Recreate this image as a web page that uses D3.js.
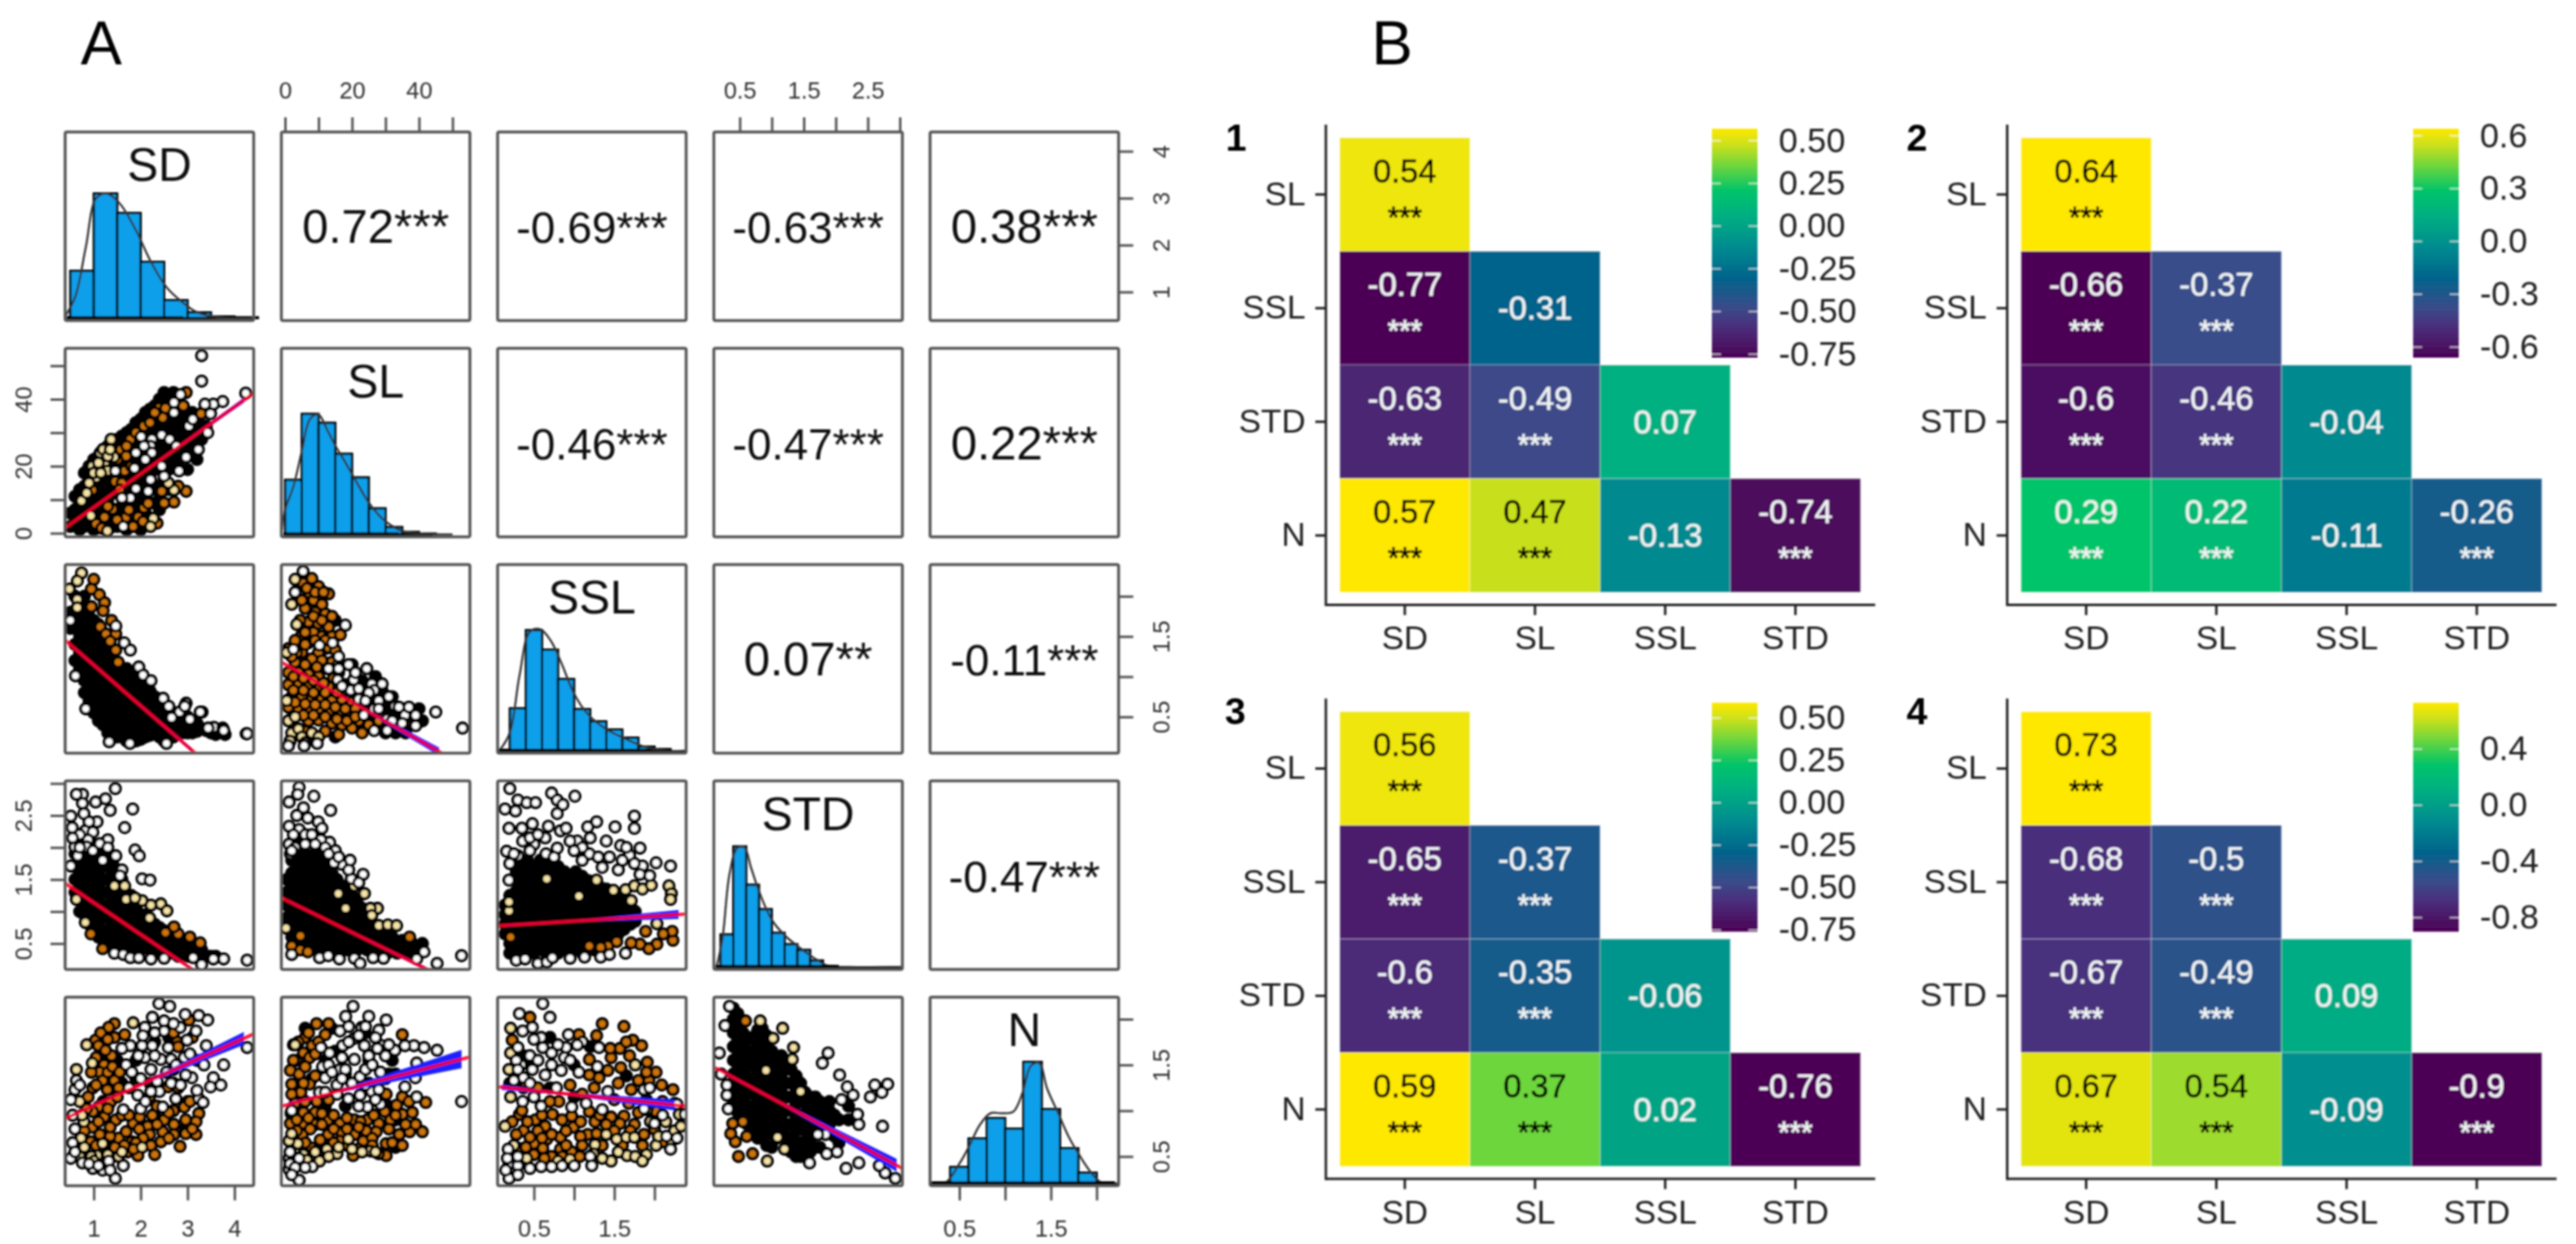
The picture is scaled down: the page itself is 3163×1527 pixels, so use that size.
<!DOCTYPE html>
<html>
<head>
<meta charset="utf-8">
<script src="https://cdn.jsdelivr.net/npm/d3@7"></script>
<style>
  body { margin: 0; background: #fff; }
  text { font-family: "Liberation Sans", Arial, sans-serif; }
</style>
</head>
<body>
<div id="chart"></div>
<script>
// ---- panel A: variables, axis ranges and ticks ----
var varNames = ["SD", "SL", "SSL", "STD", "N"];
var sdRange = [0.39, 4.41];
var slRange = [-1.1, 55.2];
var sslRange = [0.048, 2.394];
var stdRange = [0.095, 3.04];
var nRange = [0.18, 2.24];
var sdTicks = [1, 2, 3, 4];
var slTicks = [0, 10, 20, 30, 40, 50];
var slLabels = [0, 20, 40];
var sslTicks = [0.5, 1, 1.5, 2];
var stdTicks = [0.5, 1, 1.5, 2, 2.5, 3];
var nTicks = [0.5, 1, 1.5, 2];
var halfLabels = [0.5, 1.5, 2.5];

// upper triangle of the pairs plot
var corrA = [["0.72***", "-0.69***", "-0.63***", "0.38***"],
             ["-0.46***", "-0.47***", "0.22***"],
             ["0.07**", "-0.11***"],
             ["-0.47***"]];

// histograms: bin start, bin width, heights
var sdBins = [0.5, 0.5], sdHist = [58, 153, 129, 69, 22, 7, 2, 1];
var slBins = [0, 5], slHist = [67, 148, 137, 99, 70, 32, 9, 3, 1];
var sslBins = [0.2, 0.2], sslHist = [52, 148, 124, 88, 51, 36, 26, 16, 5, 2];
var stdBins = [0.2, 0.2], stdHist = [40, 148, 101, 71, 42, 28, 21, 8, 1];
var nBins = [0.4, 0.2], nHist = [20, 55, 80, 67, 149, 91, 43, 13];

// density curves: x, height
var sdDens = [0.39,2, 0.61,27, 0.83,87, 1.05,147, 1.27,153, 1.55,141, 1.88,110, 2.22,69, 2.55,38, 2.88,20, 3.21,7, 3.77,0, 4.41,0];
var slDens = [-1,5, 0,30, 2.5,59, 5,102, 7.5,142, 10,147, 12.5,129, 15,109, 17.5,92, 20,74, 22.5,56, 25,39, 27.5,26, 30,16, 35,4, 40,1, 50,0];
var sslDens = [0.07,0, 0.2,22, 0.32,92, 0.45,146, 0.58,149, 0.71,135, 0.84,108, 1,70, 1.16,46, 1.39,27, 1.61,16, 1.87,5, 2.13,0, 2.39,0];
var stdDens = [0.14,1, 0.23,35, 0.34,114, 0.46,146, 0.57,147, 0.68,121, 0.82,89, 1,58, 1.2,39, 1.43,24, 1.68,10, 1.9,1, 2.2,0, 3.03,0];
var nDens = [0.19,0, 0.35,1, 0.5,24, 0.61,46, 0.72,71, 0.84,86, 0.96,86, 1.09,88, 1.19,111, 1.28,144, 1.37,148, 1.46,116, 1.58,86, 1.7,56, 1.82,33, 1.94,13, 2.05,1, 2.23,0];

// rug under histograms: dense start, dense end, last value
var sdRug = [0.42, 2.9, 3.6], slRug = [-0.5, 34, 44], sslRug = [0.06, 1.95, 2.39], stdRug = [0.12, 2.05, 3.03], nRug = [0.19, 2.2, 2.24];

// scatter points. K arrays are columns [x, y, y, ...]; O, T and W are flat x,y lists
var slSdK = [[0.5,2,6],[0.7,1,5,9,13],[0.9,3,8,12,16,20],[1.1,2,6,11,15,19,23],[1.3,1,5,10,14,18,22,26],[1.5,2,7,12,16,20,24,28],[1.7,1,5,10,14,18,22,26,30],[1.9,3,8,13,17,21,25,29,33],[2.1,6,11,16,20,24,28,32,36],[2.3,9,14,19,23,27,31,35,38],[2.5,16,22,26,30,34,38,42],[2.7,22,26,30,34,38,42],[2.9,26,30,34],[3.1,24,28,32,36],[3.3,28,32],
  [0.6,3,7,11],[0.8,2,6,10,14,18],[1,1,5,9,14,18,22],[1.2,3,8,13,17,21,25],[1.4,2,7,12,16,20,24,27],[1.6,3,8,13,17,21,25,29],[1.8,2,7,12,16,20,24,28,31],[2,1,5,10,15,19,23,27,31,34],[2.2,4,9,14,18,22,26,30,34,37],[2.4,7,12,21,25,33,40],[2.6,13,19,24,28,32,36,41],[2.8,20,24,28,32,36,40],[3,19,23,27,31,36],[3.2,22,26,30,34],[3.4,32,36]];
var slSdO = [2.97,42, 2.39,37.3, 2.53,37.3, 2.47,34.5, 2.07,32, 1.78,28, 1.58,25, 1.69,23, 1.46,15.4, 0.97,12.9, 2.45,12.5, 2.97,12.5, 2.71,9.3, 2.91,38, 1.4,7.2, 1.69,4.8, 1.87,5.6, 2.07,7.6, 1.05,2.8, 1.84,2, 1.23,4.8, 1.95,4.8, 1.17,1.5, 3.29,35.7, 1.66,18.6, 2.16,8.9,
  1.5,22, 1.7,26, 1.9,30, 2.2,33, 2.3,36, 1.8,20, 1.6,15, 1.75,7, 2.05,3.5, 1.5,4, 1.3,8, 2.5,9, 2.8,14, 2.35,3, 1.55,13];
var slSdT = [1.37,28, 1.14,24, 1.43,22.7, 1.23,20.6, 0.97,20, 1.05,16.6, 0.74,9.7, 2.27,4.4, 2.21,2, 2.71,12.9, 2.59,15, 0.94,5.2, 1.29,0.7, 1.29,18.6, 1.2,25, 1.3,23, 1.1,21, 1,18, 0.9,15, 1.35,25, 1.15,18, 0.85,12];
var slSdW = [3.3,53, 3.3,45.4, 4.24,41.8, 3.75,39.3, 3.55,38.5, 3.37,38.5, 3.49,35.7, 2.85,41.4, 2.71,39, 2.71,36, 3.03,32, 2.45,29.3, 2.01,28.8, 2.24,28, 2.21,26, 2.07,26, 1.9,24, 2.24,24, 2.1,22, 2.97,22.7, 2.82,18.6, 1.87,19.4, 1.46,18.6, 2.5,17, 2.21,16, 1.9,13.3, 2.16,12.5, 1.78,10.5, 1.6,10.5, 1.63,2, 3.43,30, 3.23,25, 3.11,34, 2.62,28, 2.45,20, 2.76,26];

var sslSdK = [[0.5,1.6,1.8],[0.7,1.1,1.3,1.5,1.7,1.9],[0.9,0.7,0.85,1,1.15,1.3,1.45,1.6,1.75],[1.1,0.45,0.6,0.75,0.9,1.05,1.2,1.35,1.5,1.65],[1.3,0.3,0.45,0.6,0.75,0.9,1.05,1.2,1.35],[1.5,0.25,0.4,0.55,0.7,0.85,1,1.15],[1.7,0.2,0.35,0.5,0.65,0.8,0.95,1.1],[1.9,0.2,0.35,0.5,0.65,0.8,0.95],[2.1,0.25,0.4,0.55,0.7,0.85],[2.3,0.3,0.45,0.6,0.75],[2.5,0.2,0.35,0.5,0.65],[2.7,0.25,0.4,0.55],[2.9,0.3,0.45],[3.1,0.3,0.4],[3.3,0.35],[3.5,0.3],
  [0.6,1.2,1.4,1.6,1.8,2],[0.8,0.8,0.95,1.1,1.25,1.4,1.55,1.7,1.85,2],[1,0.55,0.7,0.85,1,1.15,1.3,1.45,1.6,1.7],[1.2,0.4,0.55,0.7,0.85,1,1.15,1.3,1.45],[1.4,0.3,0.45,0.6,0.75,0.9,1.05,1.2],[1.6,0.25,0.4,0.55,0.7,0.85,1,1.1],[1.8,0.25,0.4,0.55,0.7,0.85,1],[2,0.22,0.37,0.52,0.67,0.82,0.92],[2.2,0.27,0.42,0.57,0.72,0.82],[2.4,0.25,0.4,0.55,0.7],[2.6,0.25,0.38,0.5,0.6],[2.8,0.3,0.42,0.5],[3,0.3,0.4,0.5],[3.2,0.32,0.42],[3.4,0.33],[3.6,0.28],[3.8,0.28]];
var sslSdO = [1,2.21, 0.95,2.09, 1.12,2.02, 1.23,1.92, 0.95,1.87, 1.2,1.82, 1.38,1.7, 1.14,1.62, 1.26,1.53, 1.47,1.53, 1.35,1.44, 1.47,1.33, 1.52,1.18];
var sslSdT = [0.74,2.29, 0.65,2.19, 0.48,2.09, 0.65,1.96, 0.65,1.86];
var sslSdW = [1.47,1.63, 1.65,1.42, 1.78,1.33, 1.96,1.12, 2.05,1.02, 2.22,0.95, 2.48,0.73, 2.6,0.63, 2.97,0.67, 2.83,0.56, 3.31,0.56, 3.05,0.47, 3.56,0.37, 3.75,0.36, 4.25,0.29, 2.94,0.63, 3.27,0.56, 2.66,0.49, 3.44,0.36, 3.77,0.33, 4.27,0.29, 1.33,0.19, 1.77,0.17, 0.83,0.6, 0.61,1.01, 0.5,1.7, 2.55,0.17];

var sslSlK = [[18,0.6,0.9],[22,0.6],[25,0.7],[30,0.6,0.3],[33,0.55,0.3],[36,0.6,0.3],[28,0.75],[24,0.85],[32,0.75],[26,0.5],[12,1.35],[16,1.05],[3,0.3,0.75],[9,0.25,1.7],[15,0.25,1.7],[23,0.95],[27,1],[20,1.15],[29,0.82],[34,0.48],[38,0.45],[41,0.45],[40,0.6],[37,0.5]];
var sslSlO = [5.4,2.16, 8,2.22, 10,2.12, 7,2.05, 13,2.03, 8.5,1.95, 11,1.9, 6,1.85, 9,1.8, 12,1.78, 7,1.68, 10,1.66, 13,1.62, 8.5,1.55, 11,1.5, 14,1.5, 16.5,1.52, 5,1.52, 7,1.42, 10,1.3, 13,1.36, 15,1.33, 3,1.45, 5,1.3, 8,1.22, 11,1.2, 14,1.18, 1,1.35, 3,1.18, 1,1.05, 4,1.05, 7,1.03, 10,1, 1,0.9, 4,0.9, 7,0.88, 10,0.85, 13,0.88, 2,0.75, 5,0.75, 8,0.72, 11,0.72, 14,0.7, 17,0.72, 20,0.68, 1,0.62, 4,0.6, 7,0.58, 10,0.6, 13,0.57, 16,0.55, 19,0.52, 22,0.45, 25,0.4, 28,0.45, 7,0.45, 10,0.46, 14,0.42, 17,0.4, 20,0.36, 12,0.32, 16,0.28, 6,0.32, 23,0.3, 30,0.35, 33,0.45, 36,0.42,
  6.5,2.1, 9,2.05, 11.5,2.05, 5,1.95, 4.5,1.7, 6,1.55, 8.5,1.75, 11,1.7, 14,1.75, 12,1.45, 9,1.45, 6,1.4, 3.5,1.3, 2,1.25, 6,1.15, 9.5,1.12, 12.5,1.1, 2.5,1, 5.5,0.98, 8.5,0.95, 11.5,0.92, 14.5,0.98, 2.5,0.83, 5.5,0.83, 8.5,0.8, 12,0.8, 15.5,0.8, 3,0.68, 6,0.66, 9,0.65, 12,0.65, 15,0.62, 18,0.6, 21,0.6, 24,0.55, 5.5,0.52, 8.5,0.52, 12,0.5, 15.5,0.47, 18.5,0.45, 21,0.5, 2,0.48];
var sslSlT = [3,2.21, 0.5,1.3, 1,0.45, 2,0.3, 4,0.35, 5,0.25, 3,0.5, 0.5,0.7, 8,0.3, 10,0.25, 1.5,0.2, 2,1.9, 6,0.18, 3.5,1.65];
var sslSlW = [5.4,2.31, 3,2.05, 18,1.64, 53,0.36, 45,0.56, 15.8,1.15, 19,1.15, 24.4,1.1, 15.7,0.96, 20.5,0.96, 25.9,0.91, 29,0.91, 22,0.72, 26.6,0.83, 26.6,0.6, 30.5,0.33, 23.5,0.52, 35.8,0.52, 39,0.52, 39,0.39, 26.6,0.33, 30.5,0.47, 14.2,1.42, 10.3,1.39, 2.5,1.34, 5.7,0.14, 1,0.14, 9.6,0.17, 19.6,0.83, 32.8,0.63,
  16,1.25, 13,1.1, 16,1.1, 21,1.05, 17,0.88, 22,0.85, 25,0.8, 28,0.7, 31,0.75, 34,0.62, 37,0.62, 24,0.7, 28,0.6, 32,0.45, 35,0.42];

var stdSdK = [[0.7,1,1.2,1.4,1.6,1.8],[0.9,0.8,1,1.2,1.4,1.6,1.8,2],[1.1,0.6,0.8,1,1.2,1.4,1.6,1.8],[1.3,0.5,0.7,0.9,1.1,1.3,1.5,1.7,1.9],[1.5,0.45,0.65,0.85,1.05,1.25,1.45,1.65],[1.7,0.45,0.65,0.85,1.05],[1.9,0.45,0.65,0.85,1.05],[2.1,0.45,0.65,0.85,0.95],[2.3,0.45,0.65,0.8],[2.5,0.4,0.55,0.7],[2.7,0.35,0.5,0.65],[2.9,0.35,0.5],[3.1,0.35,0.45],[3.3,0.3,0.4],[3.5,0.3],
  [0.6,1.3,1.5,1.7,1.9],[0.8,0.95,1.1,1.3,1.5,1.7,1.9,2.1],[1,0.7,0.9,1.1,1.3,1.5,1.7,1.9,2.05],[1.2,0.55,0.7,0.9,1.1,1.3,1.5,1.7,1.9],[1.4,0.45,0.6,0.8,1,1.2,1.4,1.6,1.75],[1.6,0.42,0.55,0.75,0.95,1.15,1.35,1.5],[1.8,0.4,0.55,0.75,0.95,1.1,1.25],[2,0.4,0.55,0.75,0.95],[2.2,0.4,0.55,0.7,0.85],[2.4,0.35,0.5,0.65,0.75],[2.6,0.35,0.45,0.6],[2.8,0.3,0.45,0.55],[3,0.3,0.42],[3.2,0.3,0.4],[3.4,0.3],[3.6,0.3]];
var stdSdO = [3.05,0.6, 2.8,0.65, 2.53,0.67, 2.71,0.76, 0.94,0.65, 1.19,0.42, 3.27,0.51];
var stdSdT = [2.43,1.12, 2.56,1.01, 2.22,1.1, 2.03,1.17, 1.69,1.19, 1.88,1.21, 1.66,1.4, 1.44,1.4, 2.19,0.9, 0.82,0.83, 0.63,1.19];
var stdSdW = [1.46,2.92, 0.76,2.83, 0.63,2.83, 0.76,2.69, 1.04,2.71, 1.25,2.76, 1.35,2.58, 1.83,2.6, 1.66,2.31, 0.79,2.53, 0.51,2.49, 0.54,2.31, 1.07,2.4, 0.82,2.26, 0.98,2.24, 1.3,2.12, 0.6,2.01, 0.88,2.12, 1.13,2.06, 0.85,2.01, 1.88,1.96, 1.97,1.87, 1.47,1.87, 0.66,1.87, 1.19,1.8, 1.6,1.65, 2.03,1.51, 2.2,1.49, 1.56,1.56, 0.51,1.71, 1.44,0.35, 1.63,0.33, 1.78,0.28, 1.96,0.28, 2.22,0.26, 2.5,0.27, 3.12,0.28, 3.3,0.17, 3.55,0.26, 3.77,0.26, 4.27,0.24, 0.9,2.4, 0.7,2.2, 0.55,2.15, 0.7,2, 0.98,1.95, 1.3,2];

var stdSlK = [[2,0.6,0.8,1,1.2,1.4,1.6,1.8],[5,0.45,0.65,0.85,1.05,1.25,1.45,1.65,1.85,2.05],[8,0.45,0.65,0.85,1.05,1.25,1.45,1.65,1.85],[11,0.45,0.65,0.85,1.05,1.25,1.45,1.65,1.85],[14,0.45,0.65,0.85,1.05,1.25,1.45,1.6],[17,0.45,0.65,0.85,1.05,1.2,1.4],[20,0.45,0.65,0.85,1.05,1.25],[23,0.45,0.65,0.85,1.05],[26,0.4,0.6,0.8],[29,0.45,0.62],[32,0.4,0.6],[35,0.4,0.55],[38,0.4,0.5],[41,0.5],
  [3.5,0.5,0.7,0.9,1.1,1.3,1.5,1.7,1.9,2.1],[6.5,0.4,0.55,0.75,0.95,1.15,1.35,1.55,1.75,1.95],[9.5,0.4,0.55,0.75,0.95,1.15,1.35,1.55,1.75,1.95],[12.5,0.4,0.55,0.75,0.95,1.15,1.35,1.55,1.75],[15.5,0.4,0.55,0.75,0.95,1.15,1.35,1.5],[18.5,0.4,0.55,0.75,0.95,1.15,1.3],[21.5,0.4,0.55,0.75,0.95,1.15],[24.5,0.4,0.55,0.75,0.9],[27.5,0.4,0.55,0.7],[30.5,0.35,0.5,0.65],[33.5,0.35,0.5],[36.5,0.35,0.5],[39.5,0.4],[0.5,0.9,1.1,1.3,1.5]];
var stdSlO = [37.2,0.6, 2,0.46, 4.6,0.4, 6.8,0.37, 4.6,0.62];
var stdSlT = [27.6,1.05, 25.5,1.05, 20.7,1.4, 15.9,1.28, 23.7,1.28, 25.9,0.94, 28,0.78, 30.7,0.79, 33.3,0.78, 0.3,0.74, 18.1,1.05];
var stdSlW = [4.2,2.94, 8.6,2.8, 3.8,2.83, 1.2,2.71, 5.5,2.62, 13.6,2.58, 6.8,2.46, 1.2,2.33, 9.9,2.4, 4.2,2.28, 7.3,2.03, 1.2,2.05, 13.3,2.08, 10.7,2.12, 1.6,1.9, 19.4,1.8, 16.8,1.74, 23.3,1.58, 14.6,1.76, 19.8,1.51, 2,0.33, 10.3,0.28, 12.9,0.31, 16.2,0.26, 20.7,0.27, 22.4,0.19, 26.3,0.28, 29.4,0.27, 45.4,0.19, 52.7,0.31, 41.5,0.37, 39.3,0.26, 2.5,2.2, 3.5,2.5, 6,2.2, 8,2.2, 11,2.3, 3,2, 6,2.05, 9,2.05, 12,2, 2,1.95, 15,1.95, 13,1.9, 16,1.85, 19,1.65, 22,1.45];

var stdSslK = [[0.2,0.35,0.5,0.65,0.8,0.95,1.1,1.25],[0.35,0.35,0.5,0.65,0.8,0.95,1.1,1.25,1.4,1.55,1.7],[0.5,0.35,0.5,0.65,0.8,0.95,1.1,1.25,1.4,1.55,1.7],[0.65,0.35,0.5,0.65,0.8,0.95,1.1,1.25,1.4,1.55,1.7],[0.8,0.35,0.5,0.65,0.8,0.95,1.1,1.25,1.4,1.55,1.7],[0.95,0.35,0.5,0.65,0.8,0.95,1.1,1.25,1.4,1.55],[1.1,0.35,0.5,0.65,0.8,0.95,1.1,1.25,1.4,1.55],[1.25,0.4,0.55,0.7,0.85,1,1.15,1.3,1.45],[1.4,0.6,0.75,0.9,1.05,1.2,1.35],[1.55,0.65,0.8,0.95,1.1,1.25],[1.7,0.8,0.95,1.1],
  [0.14,0.65,0.8,0.95,1.1],[0.28,0.42,0.58,0.72,0.88,1.02,1.18,1.32,1.48,1.62,1.8],[0.42,0.42,0.58,0.72,0.88,1.02,1.18,1.32,1.48,1.62,1.8],[0.58,0.42,0.58,0.72,0.88,1.02,1.18,1.32,1.48,1.62,1.8],[0.72,0.42,0.58,0.72,0.88,1.02,1.18,1.32,1.48,1.62,1.8],[0.88,0.42,0.58,0.72,0.88,1.02,1.18,1.32,1.48,1.62],[1.02,0.42,0.58,0.72,0.88,1.02,1.18,1.32,1.48,1.62],[1.18,0.42,0.58,0.72,0.88,1.02,1.18,1.32,1.48],[1.32,0.5,0.65,0.8,0.95,1.1,1.25,1.38],[1.48,0.68,0.82,0.98,1.12,1.28],[1.62,0.72,0.88,1.02,1.18],[1.76,0.85,1]];
var stdSslO = [2.23,0.55, 2.03,0.49, 1.93,0.42, 1.82,0.49, 1.89,0.69, 1.71,0.51, 1.53,0.53, 1.42,0.46, 1.33,0.44, 2.22,0.69, 0.21,0.6, 1.19,0.46, 2.11,0.65];
var stdSslT = [2.18,1.4, 2.21,1.28, 2.2,1.19, 1.64,1.34, 1.75,1.4, 1.85,1.35, 1.96,1.41, 0.19,1.01, 0.19,1.15, 1.28,1.49, 1.49,1.33, 1.71,1.17, 1.06,1.24, 0.66,1.51, 2.03,0.81];
var stdSslW = [0.2,2.92, 0.3,2.74, 0.41,2.7, 0.52,2.7, 0.14,2.6, 0.27,2.57, 0.72,2.85, 1.01,2.8, 0.79,2.74, 0.86,2.67, 0.79,2.53, 0.19,2.3, 0.48,2.37, 0.68,2.33, 0.83,2.26, 1.28,2.4, 1.17,2.32, 1.51,2.32, 1.75,2.49, 1.75,2.3, 1.2,2.15, 1.04,2.1, 1.58,2.03, 1.82,1.99, 1.69,1.88, 0.36,2.1, 0.5,2.05, 0.64,2.15, 0.79,1.99, 0.16,1.94, 1.44,1.85, 1.19,1.9, 0.3,1.87, 2.2,1.71, 2.02,1.76, 1.85,1.71, 1.55,1.65, 0.19,1.49, 1.35,1.69, 1.82,1.58, 1.94,1.56, 0.28,0.24, 0.39,0.26, 0.55,0.19, 0.66,0.21, 0.73,0.28, 0.95,0.27, 1.13,0.29, 1.33,0.29, 1.44,0.33, 1.64,0.35,
  0.45,2.15, 0.55,2.2, 0.35,2.3, 0.95,2.1, 1.1,2, 1.4,2.1, 0.9,2.3, 1.65,2, 1.3,1.85, 1.6,1.8, 1.75,1.75, 1.1,1.8, 1,1.95, 0.2,1.75, 0.45,1.95, 0.65,1.9, 0.75,1.85, 0.25,1.9];

var nSdK = [[1.5,1.55,1.15],[1.9,1.35,1.55],[2.3,1.3,1.75,0.95],[2.7,1.3,1.45,1],[2.6,1.8],[3,1.6,1.1],[1.2,1.6],[2.95,0.8],[1.2,1.1],[1.6,1.3],[2.2,1.3]];
var nSdO = [1.44,1.95, 1.32,1.91, 1.66,1.83, 1.04,1.77, 1.44,1.8, 1.1,1.71, 1.38,1.6, 1.22,1.5, 1.13,1.42, 1.44,1.33, 1.19,1.33, 0.98,1.25, 0.88,1.15, 1.29,1.23, 1.53,1.25, 1.35,1.09, 1.1,1.04, 0.98,0.99, 1.22,0.93, 1.47,0.9, 1.84,0.86, 2.15,0.83, 2.5,0.9, 2.71,0.85, 2.96,0.9, 3.24,0.97, 3.18,0.88, 2.93,1.04, 2.59,1.26, 2.19,1.15, 3.03,1.99, 2.78,1.75, 3.18,0.74, 2.84,0.61, 2.43,0.66, 2.22,0.62, 2.19,0.74, 2.71,0.74, 2.47,0.77, 2.96,0.75, 1.94,0.51, 1.38,0.55, 1.53,0.7, 1.81,0.66, 0.94,0.66, 1.13,0.74, 1.35,0.72, 1.72,0.55, 0.97,0.82, 1.69,0.77, 1.97,0.8,
  1.15,1.85, 1.3,1.78, 1.25,1.66, 1.05,1.58, 1.3,1.42, 1.05,1.28, 1.4,1.48, 0.95,1.42, 1.55,1.42, 1.5,1.15, 1.3,1.02, 0.85,1.02, 1.6,0.95, 1.1,0.88, 1.35,0.82, 0.8,0.78, 1.75,0.95, 1.98,0.93, 2.25,0.95, 2.35,1.05, 2.7,1, 2.8,1.25, 3.05,1.1, 2.6,0.98, 3.1,0.8, 2.6,0.7, 2.35,0.85, 2.05,0.7, 1.9,0.65, 1.65,0.62, 1.45,0.6, 1.25,0.63, 1.05,0.62, 1.2,0.5, 1.85,0.58, 2.3,0.52, 2.8,1.7, 3.1,1.8, 2.7,1.85, 3.2,1.55];
var nSdT = [0.85,1.72, 1.84,1.96, 0.97,1.52, 0.63,1.45, 0.79,0.88, 0.66,0.58, 0.85,0.51, 1.19,0.64, 1.07,0.51, 2.03,0.6, 1.53,0.5, 0.73,0.7, 0.7,1.1, 0.75,0.95, 0.8,0.6, 0.95,0.5, 0.7,0.5, 1,0.45, 1.3,0.52, 1.6,0.55];
var nSdW = [2.39,2.17, 2.62,2.14, 2.25,2.02, 2.5,1.98, 3.24,2.04, 3.43,1.99, 2.09,1.91, 2.84,1.91, 2.5,1.87, 3.18,1.87, 2.99,1.77, 2.25,1.71, 2.03,1.71, 1.78,1.71, 1.6,1.68, 2.59,1.69, 2.09,1.58, 2.43,1.56, 2.65,1.56, 1.69,1.5, 1.81,1.42, 2.22,1.45, 2.93,1.58, 3.4,1.71, 4.27,1.69, 3.77,1.5, 3.55,1.36, 3.49,1.26, 3.71,1.28, 3.09,1.36, 2.96,1.39, 2.4,1.21, 2.22,1.21, 1.94,1.17, 2.75,1.13, 3.24,1.13, 3.33,1.09, 1.63,1.01, 2,1.02, 2.47,1.04, 0.63,1.33, 0.6,1.23, 0.51,1.12, 0.76,0.43, 1.19,0.35, 1.46,0.26, 1.63,0.4, 0.51,0.48, 1.32,0.45, 0.98,0.37,
  2.05,1.82, 2.3,1.85, 2.7,1.95, 2.95,2.05, 3.05,1.62, 2.75,1.5, 2.55,1.42, 2.3,1.6, 1.95,1.6, 2,1.35, 2.35,1.32, 2.65,1.3, 2.85,1.28, 3.2,1.22, 1.75,1.25, 2.1,1.1, 3.35,1.5, 0.7,1.28, 0.55,0.95, 0.6,0.8, 0.55,0.65, 0.6,0.55, 0.9,0.42, 1.1,0.4, 1.35,0.35];

var nSlK = [[12,1.55,1.05],[18,1.4,1.05],[25,1.3,1.55],[31,1.05,1.4],[8,0.5,1.35],[14,1.9,0.55],[33,0.9,0.6],[24,1.85],[30,1.35],[33,1.4],[32,1.55],[15,1.65],[6,1.9]];
var nSlO = [9.4,1.95, 6,1.8, 12,1.83, 2.5,1.72, 8.1,1.71, 5.5,1.63, 35,1.83, 1.6,1.44, 4.2,1.4, 7.3,1.58, 2,1.29, 7.3,1.29, 4.7,1.2, 2,1.18, 42,1.09, 35,1.15, 30.2,1.18, 33.3,1.06, 38,0.98, 35,0.96, 29.8,0.99, 24.6,0.9, 20.7,0.9, 16.4,0.86, 12.9,0.9, 9,0.98, 5.5,0.98, 1.6,0.86, 5.5,0.86, 9,0.85, 12.9,0.74, 16.8,0.77, 20.7,0.74, 24.2,0.78, 28,0.86, 31.5,0.9, 34.1,0.74, 37.2,0.77, 41,0.77, 30.2,0.64, 27.2,0.77, 23.3,0.67, 5.1,0.74, 8.1,0.59, 20.3,0.51, 30.2,0.51, 28,0.53, 12.9,0.61, 16.4,0.67,
  7,1.85, 4,1.75, 10,1.75, 13,1.95, 3.5,1.55, 6,1.48, 9,1.62, 2.5,1.55, 5.5,1.3, 9,1.38, 3,1.08, 6,1.1, 9.5,1.1, 13,1.12, 1.8,0.97, 3.5,0.9, 7,0.92, 11,0.97, 14.5,0.95, 18.5,0.92, 22.5,0.88, 26.5,0.95, 33,0.95, 37,1.1, 39,0.85, 36,0.85, 31,0.8, 26,0.7, 22,0.82, 18.5,0.8, 14.5,0.8, 11,0.85, 7.5,0.8, 3.5,0.78, 10.5,0.68, 14.5,0.65, 18.5,0.62, 22,0.58, 26,0.62, 32,0.65, 35,0.62, 6,0.65, 10,0.55, 13.5,0.55];
var nSlT = [3.8,0.64, 3.4,0.48, 12.5,0.58, 15.5,0.53, 18.9,0.69, 25.5,0.56, 1.2,0.67, 3,1.72, 7.7,0.5, 10.3,0.45, 2,0.75, 5.5,0.52, 6.5,0.46, 9,0.55, 13,0.5, 16,0.6, 20,0.58, 23,0.55, 27,0.55];
var nSlW = [20.3,2.14, 18.1,2.03, 25,2.03, 30.2,1.99, 28,1.88, 16.4,1.87, 22.9,1.91, 20.7,1.79, 28.9,1.71, 45.4,1.66, 41.5,1.69, 38.5,1.71, 35.8,1.71, 32.8,1.66, 17.2,1.71, 23.7,1.71, 10.7,1.69, 13.3,1.63, 20.7,1.56, 27.6,1.68, 11.2,1.48, 16.4,1.45, 22.4,1.37, 12,1.36, 15.5,1.28, 28.5,1.42, 39.3,1.52, 38.9,1.36, 35.8,1.26, 39.3,1.15, 52.7,1.1, 10.3,1.2, 15.5,1.18, 18.9,1.13, 22.4,1.17, 25.9,1.21, 28,1.23, 24.6,1.04, 28.5,1.07, 2,1, 1.2,0.48, 4.2,0.24, 8.1,0.39, 1.2,0.36, 4.2,0.48,
  19,1.92, 24,1.92, 27,1.8, 19,1.75, 22,1.82, 31,1.72, 25,1.6, 17,1.58, 13,1.5, 18,1.45, 24,1.45, 26,1.5, 30,1.6, 14,1.42, 20,1.3, 17,1.35, 24,1.28, 12,1.2, 27,1.12, 22,1.05, 1.5,0.55, 1.5,0.42, 6,0.38, 3,0.38, 2,0.3];

var nSslK = [[0.37,1.6,1.25],[0.46,1.56],[0.7,1.25,1.8],[1,1.5,1.15],[1.2,1.7],[1.65,1.38],[0.2,1.3]];
var nSslO = [1.35,1.95, 1.62,1.92, 1.73,1.77, 1.84,1.71, 1.28,1.82, 1.06,1.83, 0.45,2.02, 0.23,1.77, 1.57,1.68, 1.46,1.58, 1.69,1.6, 1.91,1.53, 2.02,1.42, 1.93,1.33, 1.8,1.33, 1.58,1.47, 1.42,1.44, 1.19,1.39, 1.31,1.36, 1.71,1.23, 2.09,1.28, 2.23,1.23, 0.81,1.1, 1.19,1.56, 0.32,0.96, 0.52,0.9, 0.73,0.96, 0.97,0.94, 1.19,0.99, 1.46,0.93, 1.62,0.94, 1.8,0.98, 2.02,0.99, 0.23,0.88, 0.37,0.78, 0.64,0.83, 0.83,0.71, 0.99,0.82, 1.17,0.74, 1.26,0.88, 1.57,0.86, 1.87,0.74, 0.3,0.59, 0.5,0.64, 0.66,0.69, 0.83,0.58, 0.72,0.5, 0.61,0.59, 0.97,0.55, 1.4,0.85, 1.75,0.85, 2.11,0.66, 0.28,0.74, 0.45,0.71,
  0.55,1.25, 0.7,1.1, 0.4,1.3, 0.95,1.28, 1.1,1.18, 1.25,1.25, 1.55,1.3, 1.9,1.42, 0.35,1, 0.42,0.88, 0.6,0.95, 0.85,0.9, 1.08,0.88, 1.32,0.95, 0.55,0.78, 0.72,0.74, 0.9,0.78, 1.08,0.72, 1.28,0.75, 1.5,0.78, 1.7,0.78, 2,0.8, 0.4,0.6, 0.6,0.7, 0.9,0.62, 1.1,0.62, 1.35,0.62, 1.6,0.62, 0.5,0.52, 0.63,0.48, 0.85,0.5, 1.07,0.5, 1.85,0.62, 1.5,1.12, 1.68,1.08, 1.9,1.12, 1.45,1.68, 1.65,1.75, 2.1,1.1, 2.25,1.08];
var nSslT = [0.21,1.9, 0.19,1.45, 0.21,1.63, 0.21,1.15, 0.14,0.83, 1.91,1.01, 2.14,0.88, 2.31,0.96, 1.4,0.74, 1.53,0.69, 1.65,0.71, 1.75,0.71, 1.26,0.63, 1.46,0.45, 1.66,0.51, 1.76,0.5, 2.02,0.62, 2.21,0.67, 0.41,0.48, 1.76,1.5, 1.24,0.53, 2.05,0.72, 2.25,0.78, 1.95,0.88, 2.33,0.83, 1.9,0.52, 1.55,0.55, 1.85,0.45, 0.8,0.45, 0.95,0.47, 0.25,0.62, 1.35,0.48];
var nSslW = [0.61,2.17, 0.7,2.02, 0.32,2.06, 0.48,1.91, 0.36,1.87, 0.61,1.69, 0.59,1.8, 0.3,1.69, 0.93,1.83, 1.1,1.75, 0.9,1.69, 1.04,1.72, 0.72,1.63, 0.88,1.58, 1.31,1.69, 0.34,1.5, 0.48,1.45, 0.64,1.39, 0.37,1.36, 0.84,1.44, 1.06,1.42, 1.29,1.48, 1.42,1.21, 0.5,1.15, 0.36,1.1, 0.59,1.05, 0.97,1.04, 1.35,1.01, 1.87,1.23, 1.94,1.25, 2,0.86, 1.91,1.09, 0.18,0.58, 0.19,0.42, 0.3,0.4, 0.19,0.26, 0.45,0.37, 0.59,0.39, 0.72,0.39, 1,0.4, 1.2,0.5, 1.22,0.4, 2.2,0.58, 1.87,1.02, 2.38,0.96,
  0.45,1.6, 0.55,1.55, 0.8,1.72, 0.72,1.5, 0.95,1.55, 0.5,1.78, 0.78,1.25, 0.25,1.33, 0.28,1.55, 0.3,1.45, 0.45,1.3, 1.15,1.08, 0.17,0.48, 0.3,0.5, 0.15,0.35, 0.3,0.3, 2.15,0.72, 2.28,0.7, 2.1,0.95, 2.28,1.07, 0.85,0.4];

var nStdK = [[0.4,1.1,1.25,1.4,1.55,1.7,1.85,2,2.12],[0.55,0.95,1.1,1.25,1.4,1.55,1.7,1.85],[0.7,0.75,0.9,1.05,1.2,1.35,1.5,1.65,1.8],[0.85,0.7,0.85,1,1.15,1.3,1.45,1.6,1.75,1.9],[1,0.6,0.75,0.9,1.05,1.2,1.35,1.5,1.65],[1.15,0.75,0.9,1.05,1.2,1.35,1.5,1.6],[1.3,0.55,0.7,0.85,1,1.15,1.3,1.45],[1.45,0.5,0.65,0.8,0.95,1.1,1.3],[1.6,0.55,0.7,0.85,1,1.15],[1.75,0.6,0.8,0.95,1.1],[1.9,0.85,1,1.1],[2.05,0.65,0.9],
  [0.47,0.98,1.15,1.3,1.45,1.6,1.78,1.92,2.06],[0.62,0.85,1,1.18,1.32,1.48,1.62,1.78],[0.78,0.7,0.82,0.98,1.12,1.28,1.42,1.58,1.72,1.88],[0.92,0.62,0.8,0.95,1.1,1.25,1.4,1.55,1.7,1.82],[1.08,0.7,0.82,0.98,1.12,1.28,1.42,1.55],[1.22,0.6,0.72,0.85,1,1.15,1.3,1.45],[1.38,0.5,0.62,0.78,0.92,1.08,1.25,1.38],[1.52,0.5,0.62,0.78,0.92,1.08,1.2],[1.68,0.6,0.78,0.92,1.05,1.15],[1.82,0.8,0.92,1.05],[1.98,0.72,0.95],[2.2,1.05,0.9]];
var nStdO = [0.59,1.98, 0.39,0.86, 0.43,0.66, 0.36,0.75, 0.48,0.5, 0.7,0.53, 0.61,0.72, 0.55,0.88];
var nStdT = [1.17,1.9, 1.34,1.69, 0.82,1.98, 1.02,1.79, 1.32,1.56, 1.09,0.71, 1.2,0.58, 0.93,0.45, 1.45,1.21, 0.91,1.44];
var nStdW = [0.34,2.14, 0.27,1.93, 0.18,1.63, 0.21,1.4, 0.3,1.17, 0.3,1.28, 0.32,1.02, 1.88,1.63, 1.79,1.52, 2.06,1.39, 2.18,1.26, 2.09,1.12, 2.27,1.17, 2.61,1.28, 2.81,1.29, 2.72,1.2, 2.54,1.15, 2.34,0.96, 2.36,0.85, 2.73,0.83, 1.59,0.43, 1.84,0.74, 1.72,0.74, 1.86,0.53, 2.02,0.55, 2.16,0.37, 2.36,0.43, 2.77,0.32, 2.93,0.26, 2.68,0.4];

// regression fits: x0, y0, x1, y1; bands: x, half width, x, half width ...
var slSdFit = [0.39,1.6, 4.41,41.8], slSdBand = [0.6,0.2, 2,0.1, 4.2,0.8];
var sslSdFit = [0.39,1.453, 3.16,0.05], sslSdBand = [0.6,0.015, 1.6,0.008, 3.1,0.025];
var sslSlFit = [-1.1,1.18, 46.7,0.05], sslSlBand = [1,0.015, 15,0.008, 46,0.05];
var stdSdFit = [0.39,1.44, 3.12,0.087], stdSdBand = [0.6,0.015, 1.6,0.008, 3.1,0.02];
var stdSlFit = [-1.1,1.215, 42.8,0.087], stdSlBand = [1,0.015, 15,0.008, 42,0.03];
var stdSslFit = [0.048,0.774, 2.394,0.96], stdSslBand = [0.15,0.02, 0.9,0.01, 2.3,0.07];
var nSdFit = [0.39,0.915, 4.41,1.838], nSdBand = [0.55,0.015, 1.8,0.01, 4.2,0.07];
var nSlFit = [-1.1,1.049, 55.2,1.587], nSlBand = [1,0.02, 15,0.012, 52.7,0.1];
var nSslFit = [0.048,1.261, 2.394,1.049], nSslBand = [0.1,0.03, 0.9,0.012, 2.25,0.06];
var nStdFit = [0.11,1.47, 3.04,0.37], nStdBand = [0.15,0.015, 1,0.012, 2.95,0.07];

// ---- panel B: correlation heatmaps ----
var heatX = ["SD", "SL", "SSL", "STD"];
var heatY = ["SL", "SSL", "STD", "N"];
var heat1 = [[0.54], [-0.77, -0.31], [-0.63, -0.49, 0.07], [0.57, 0.47, -0.13, -0.74]];
var heat2 = [[0.64], [-0.66, -0.37], [-0.6, -0.46, -0.04], [0.29, 0.22, -0.11, -0.26]];
var heat3 = [[0.56], [-0.65, -0.37], [-0.6, -0.35, -0.06], [0.59, 0.37, 0.02, -0.76]];
var heat4 = [[0.73], [-0.68, -0.5], [-0.67, -0.49, 0.09], [0.67, 0.54, -0.09, -0.9]];
var stars1 = [[1], [1, 0], [1, 1, 0], [1, 1, 0, 1]];
var stars2 = [[1], [1, 1], [1, 1, 0], [1, 1, 0, 1]];
var stars3 = [[1], [1, 1], [1, 1, 0], [1, 1, 0, 1]];
var stars4 = [[1], [1, 1], [1, 1, 0], [1, 1, 0, 1]];
var legend1 = [-0.75, -0.5, -0.25, 0, 0.25, 0.5];
var legend2 = [-0.6, -0.3, 0, 0.3, 0.6];
var legend3 = [-0.75, -0.5, -0.25, 0, 0.25, 0.5];
var legend4 = [-0.8, -0.4, 0, 0.4];
var viridisAt = [0, 0.08, 0.135, 0.22, 0.34, 0.48, 0.58, 0.63, 0.73, 0.84, 0.925, 1];
var viridisStops = ["#4B0055", "#4C1E6C", "#4A2F7C", "#3A4C8A", "#05628B", "#008B90", "#00A585", "#00B181", "#00C46A", "#70D63C", "#C8E01E", "#FEE800"];

// ---- drawing ----
var svg = d3.select("#chart").append("svg").attr("width", 3163).attr("height", 1527);
var defs = svg.append("defs");
defs.append("filter").attr("id", "soft")
    .attr("filterUnits", "userSpaceOnUse").attr("x", 0).attr("y", 0).attr("width", 3163).attr("height", 1527)
    .append("feGaussianBlur").attr("stdDeviation", 0.8);
var root = svg.append("g").attr("filter", "url(#soft)");

root.append("text").attr("x", 99).attr("y", 79).attr("font-size", 76).attr("fill", "#000").text("A");
root.append("text").attr("x", 1684).attr("y", 79).attr("font-size", 76).attr("fill", "#000").text("B");

// panel A layout
var left = 80, top0 = 162, size = 231.5, pitch = 265.5;
var ranges = [sdRange, slRange, sslRange, stdRange, nRange];
var colX = ranges.map(function(r, i) {
    return d3.scaleLinear().domain(r).range([left + i * pitch, left + i * pitch + size]);
});
var rowY = ranges.map(function(r, i) {
    return d3.scaleLinear().domain(r).range([top0 + i * pitch + size, top0 + i * pitch]);
});

function panelBox(col, row) {
    return root.append("rect")
        .attr("x", left + col * pitch).attr("y", top0 + row * pitch)
        .attr("width", size).attr("height", size)
        .attr("rx", 2).attr("fill", "none").attr("stroke", "#555").attr("stroke-width", 3.5);
}

function flatPairs(list) {
    var out = [];
    for (var i = 0; i < list.length; i += 2) out.push([list[i], list[i + 1]]);
    return out;
}
function columnPairs(list) {
    var out = [];
    list.forEach(function(c) {
        c.slice(1).forEach(function(y) { out.push([c[0], y]); });
    });
    return out;
}

var scatterPanels = [
    {row: 1, col: 0, k: slSdK, o: slSdO, t: slSdT, w: slSdW, fit: slSdFit, band: slSdBand},
    {row: 2, col: 0, k: sslSdK, o: sslSdO, t: sslSdT, w: sslSdW, fit: sslSdFit, band: sslSdBand},
    {row: 2, col: 1, k: sslSlK, o: sslSlO, t: sslSlT, w: sslSlW, fit: sslSlFit, band: sslSlBand},
    {row: 3, col: 0, k: stdSdK, o: stdSdO, t: stdSdT, w: stdSdW, fit: stdSdFit, band: stdSdBand},
    {row: 3, col: 1, k: stdSlK, o: stdSlO, t: stdSlT, w: stdSlW, fit: stdSlFit, band: stdSlBand},
    {row: 3, col: 2, k: stdSslK, o: stdSslO, t: stdSslT, w: stdSslW, fit: stdSslFit, band: stdSslBand},
    {row: 4, col: 0, k: nSdK, o: nSdO, t: nSdT, w: nSdW, fit: nSdFit, band: nSdBand},
    {row: 4, col: 1, k: nSlK, o: nSlO, t: nSlT, w: nSlW, fit: nSlFit, band: nSlBand},
    {row: 4, col: 2, k: nSslK, o: nSslO, t: nSslT, w: nSslW, fit: nSslFit, band: nSslBand},
    {row: 4, col: 3, k: nStdK, o: nStdO, t: nStdT, w: nStdW, fit: nStdFit, band: nStdBand}
];

scatterPanels.forEach(function(p, i) {
    var x = colX[p.col], y = rowY[p.row];
    var clipId = "clip" + i;
    defs.append("clipPath").attr("id", clipId).append("rect")
        .attr("x", left + p.col * pitch).attr("y", top0 + p.row * pitch)
        .attr("width", size).attr("height", size);
    var g = root.append("g").attr("clip-path", "url(#" + clipId + ")");

    var groups = [
        {pts: columnPairs(p.k), fill: "#000"},
        {pts: flatPairs(p.o), fill: "#cc7508"},
        {pts: flatPairs(p.t), fill: "#f6e3a6"},
        {pts: flatPairs(p.w), fill: "#fff"}
    ];
    groups.forEach(function(gr) {
        g.selectAll(null).data(gr.pts).enter().append("circle")
            .attr("cx", function(d) { return x(d[0]); })
            .attr("cy", function(d) { return y(d[1]); })
            .attr("r", 6.2)
            .attr("fill", gr.fill)
            .attr("stroke", "#000")
            .attr("stroke-width", 3.8);
    });

    // confidence band then fit line
    var f = p.fit;
    var fitAt = function(v) { return f[1] + (v - f[0]) * (f[3] - f[1]) / (f[2] - f[0]); };
    var band = flatPairs(p.band);
    g.append("path").datum(band)
        .attr("fill", "#1f24ff")
        .attr("d", d3.area()
            .x(function(d) { return x(d[0]); })
            .y0(function(d) { return y(fitAt(d[0]) - d[1]); })
            .y1(function(d) { return y(fitAt(d[0]) + d[1]); }));
    g.append("line")
        .attr("x1", x(f[0])).attr("y1", y(f[1])).attr("x2", x(f[2])).attr("y2", y(f[3]))
        .attr("stroke", "#ff0028").attr("stroke-opacity", 0.9).attr("stroke-width", 4);
    panelBox(p.col, p.row);
});

// diagonal
var histData = [[sdBins, sdHist, sdDens, sdRug], [slBins, slHist, slDens, slRug], [sslBins, sslHist, sslDens, sslRug], [stdBins, stdHist, stdDens, stdRug], [nBins, nHist, nDens, nRug]];
histData.forEach(function(h, i) {
    var x = colX[i];
    var by = top0 + i * pitch + size;
    var y = d3.scaleLinear().domain([0, 228]).range([by - 3, by - 231]);
    root.selectAll(null).data(h[1]).enter().append("rect")
        .attr("x", function(d, j) { return x(h[0][0] + j * h[0][1]); })
        .attr("y", function(d) { return y(d); })
        .attr("width", function() { return x(h[0][1]) - x(0); })
        .attr("height", function(d) { return y(0) - y(d); })
        .attr("fill", "#0a9fea").attr("stroke", "#050505").attr("stroke-width", 2.8);
    root.append("path").datum(flatPairs(h[2]))
        .attr("fill", "none").attr("stroke", "#333").attr("stroke-width", 2.5)
        .attr("d", d3.line().curve(d3.curveCatmullRom)
            .x(function(d) { return x(d[0]); })
            .y(function(d) { return y(d[1]); }));
    root.append("line").attr("x1", x(h[3][0])).attr("x2", x(h[3][1])).attr("y1", by - 2.5).attr("y2", by - 2.5)
        .attr("stroke", "#000").attr("stroke-width", 6);
    root.append("line").attr("x1", x(h[3][1])).attr("x2", x(h[3][2])).attr("y1", by - 1).attr("y2", by - 1)
        .attr("stroke", "#000").attr("stroke-width", 3.5);
    panelBox(i, i);
    root.append("text")
        .attr("x", left + i * pitch + size / 2).attr("y", top0 + i * pitch + 60)
        .attr("text-anchor", "middle").attr("font-size", 57).attr("fill", "#111")
        .text(varNames[i]);
});

// correlation cells
corrA.forEach(function(rowVals, r) {
    rowVals.forEach(function(label, k) {
        var c = r + 1 + k;
        panelBox(c, r);
        root.append("text")
            .attr("x", left + c * pitch + size / 2)
            .attr("y", top0 + r * pitch + 136)
            .attr("text-anchor", "middle")
            .attr("font-size", label.charAt(0) === "-" ? 54 : 58)
            .attr("fill", "#111")
            .text(label);
    });
});

// pairs plot axes
function styleAxis(g) {
    g.select(".domain").remove();
    g.selectAll("line").attr("stroke", "#555").attr("stroke-width", 3);
    g.selectAll("text").attr("fill", "#333").attr("font-size", 29)
        .attr("font-family", "'Liberation Sans', Arial, sans-serif");
}
function labelIf(labels) {
    return function(d) { return labels.indexOf(d) >= 0 ? String(d) : ""; };
}
function oneDec(labels) {
    return function(d) { return labels.indexOf(d) >= 0 ? d3.format(".1f")(d) : ""; };
}
function bottomAxis(col, ticks, fmt) {
    root.append("g").attr("transform", "translate(0," + (top0 + 4 * pitch + size) + ")")
        .call(d3.axisBottom(colX[col]).tickValues(ticks).tickSize(18).tickPadding(24).tickFormat(fmt))
        .call(styleAxis);
}
function topAxis(col, ticks, fmt) {
    root.append("g").attr("transform", "translate(0," + top0 + ")")
        .call(d3.axisTop(colX[col]).tickValues(ticks).tickSize(18).tickPadding(23).tickFormat(fmt))
        .call(styleAxis);
}
function sideAxis(row, ticks, fmt, isRight) {
    var xPos = isRight ? left + 4 * pitch + size : left;
    var ax = isRight ? d3.axisRight(rowY[row]) : d3.axisLeft(rowY[row]);
    root.append("g").attr("transform", "translate(" + xPos + ",0)")
        .call(ax.tickValues(ticks).tickSize(18).tickFormat(fmt))
        .call(styleAxis)
        .selectAll("text")
        .attr("x", 0).attr("dy", 0).attr("y", 0)
        .attr("text-anchor", "middle")
        .attr("transform", function() {
            return "translate(" + (isRight ? 62 : -41) + ",0) rotate(-90)";
        });
}
bottomAxis(0, sdTicks, labelIf(sdTicks));
bottomAxis(2, sslTicks, oneDec(halfLabels));
bottomAxis(4, nTicks, oneDec(halfLabels));
topAxis(1, slTicks, labelIf(slLabels));
topAxis(3, stdTicks, oneDec(halfLabels));
sideAxis(1, slTicks, labelIf(slLabels), false);
sideAxis(3, stdTicks, oneDec(halfLabels), false);
sideAxis(0, sdTicks, labelIf(sdTicks), true);
sideAxis(2, sslTicks, oneDec(halfLabels), true);
sideAxis(4, nTicks, oneDec(halfLabels), true);

// heatmaps
var heatPanels = [
    {name: "1", vals: heat1, stars: stars1, legend: legend1, fmt: ".2f", x0: 1645, y0: 169, nameX: 1505, legendX: 2102},
    {name: "2", vals: heat2, stars: stars2, legend: legend2, fmt: ".1f", x0: 2481.6, y0: 169, nameX: 2341, legendX: 2963},
    {name: "3", vals: heat3, stars: stars3, legend: legend3, fmt: ".2f", x0: 1645, y0: 873.6, nameX: 1504, legendX: 2102},
    {name: "4", vals: heat4, stars: stars4, legend: legend4, fmt: ".1f", x0: 2481.6, y0: 873.6, nameX: 2341, legendX: 2963}
];

heatPanels.forEach(function(p, idx) {
    var flat = d3.merge(p.vals);
    var lo = d3.min(flat), hi = d3.max(flat);
    var w = 639.5, h = 558;
    var x = d3.scaleBand().domain(heatX).range([p.x0, p.x0 + w]);
    var y = d3.scaleBand().domain(heatY).range([p.y0, p.y0 + h]);
    var color = d3.scaleLinear()
        .domain(viridisAt.map(function(t) { return lo + (hi - lo) * t; }))
        .range(viridisStops);
    var g = root.append("g");

    p.vals.forEach(function(rowVals, r) {
        rowVals.forEach(function(v, c) {
            var cx = x(heatX[c]), cy = y(heatY[r]);
            g.append("rect").attr("x", cx).attr("y", cy)
                .attr("width", x.bandwidth()).attr("height", y.bandwidth())
                .attr("fill", color(v)).attr("stroke", "#fff").attr("stroke-opacity", 0.22).attr("stroke-width", 1.5);
            var ink = (v - lo) / (hi - lo) > 0.75 ? "#000" : "#eef3f3";
            var mx = cx + x.bandwidth() / 2, my = cy + y.bandwidth() / 2;
            var starred = p.stars[r][c] === 1;
            g.append("text").attr("x", mx).attr("y", starred ? my - 15 : my + 14)
                .attr("text-anchor", "middle").attr("font-size", 40).attr("fill", ink)
                .attr("stroke", ink).attr("stroke-width", 0.5).text(String(v));
            if (starred) {
                g.append("text").attr("x", mx).attr("y", my + 41)
                    .attr("text-anchor", "middle").attr("font-size", 36).attr("fill", ink)
                    .attr("stroke", ink).attr("stroke-width", 0.9).text("***");
            }
        });
    });

    // axes
    var axisX = p.x0 - 17, axisY = p.y0 + h + 15.5;
    var tickFont = function(s) {
        s.select(".domain").remove();
        s.selectAll("line").attr("stroke", "#222").attr("stroke-width", 3);
        s.selectAll("text").attr("fill", "#222").attr("font-size", 41)
            .attr("font-family", "'Liberation Sans', Arial, sans-serif");
    };
    root.append("g").attr("transform", "translate(" + axisX + ",0)")
        .call(d3.axisLeft(y).tickSize(13).tickPadding(12)).call(tickFont);
    root.append("g").attr("transform", "translate(0," + axisY + ")")
        .call(d3.axisBottom(x).tickSize(12.5).tickPadding(13)).call(tickFont);
    root.append("line").attr("x1", axisX).attr("x2", axisX).attr("y1", p.y0 - 16).attr("y2", axisY + 1.5)
        .attr("stroke", "#222").attr("stroke-width", 3);
    root.append("line").attr("x1", axisX).attr("x2", p.x0 + w + 18).attr("y1", axisY).attr("y2", axisY)
        .attr("stroke", "#222").attr("stroke-width", 3);
    root.append("text").attr("x", p.nameX).attr("y", p.y0 + 15.5).attr("font-size", 46)
        .attr("font-weight", "bold").attr("fill", "#000").text(p.name);

    // colour legend
    var lgTop = p.y0 - 11, lgH = 281, lgW = 56;
    var lgY = d3.scaleLinear().domain([lo, hi]).range([lgTop + lgH, lgTop]);
    var gradId = "grad" + idx;
    var grad = defs.append("linearGradient").attr("id", gradId)
        .attr("x1", 0).attr("x2", 0).attr("y1", 1).attr("y2", 0);
    viridisStops.forEach(function(c, i) {
        grad.append("stop").attr("offset", viridisAt[i]).attr("stop-color", c);
    });
    root.append("rect").attr("x", p.legendX).attr("y", lgTop).attr("width", lgW).attr("height", lgH)
        .attr("fill", "url(#" + gradId + ")");
    p.legend.forEach(function(v) {
        [[0, 11], [lgW - 11, lgW]].forEach(function(seg) {
            root.append("line").attr("x1", p.legendX + seg[0]).attr("x2", p.legendX + seg[1])
                .attr("y1", lgY(v)).attr("y2", lgY(v))
                .attr("stroke", "#fff").attr("stroke-opacity", 0.7).attr("stroke-width", 1.6);
        });
    });
    root.append("g").attr("transform", "translate(" + (p.legendX + lgW) + ",0)")
        .call(d3.axisRight(lgY).tickValues(p.legend).tickSize(0).tickPadding(26)
            .tickFormat(function(d) { return d3.format(p.fmt)(d).replace("\u2212", "-"); }))
        .call(function(s) {
            s.select(".domain").remove();
            s.selectAll("text").attr("fill", "#222").attr("font-size", 42)
                .attr("font-family", "'Liberation Sans', Arial, sans-serif");
        });
});
</script>
</body>
</html>
